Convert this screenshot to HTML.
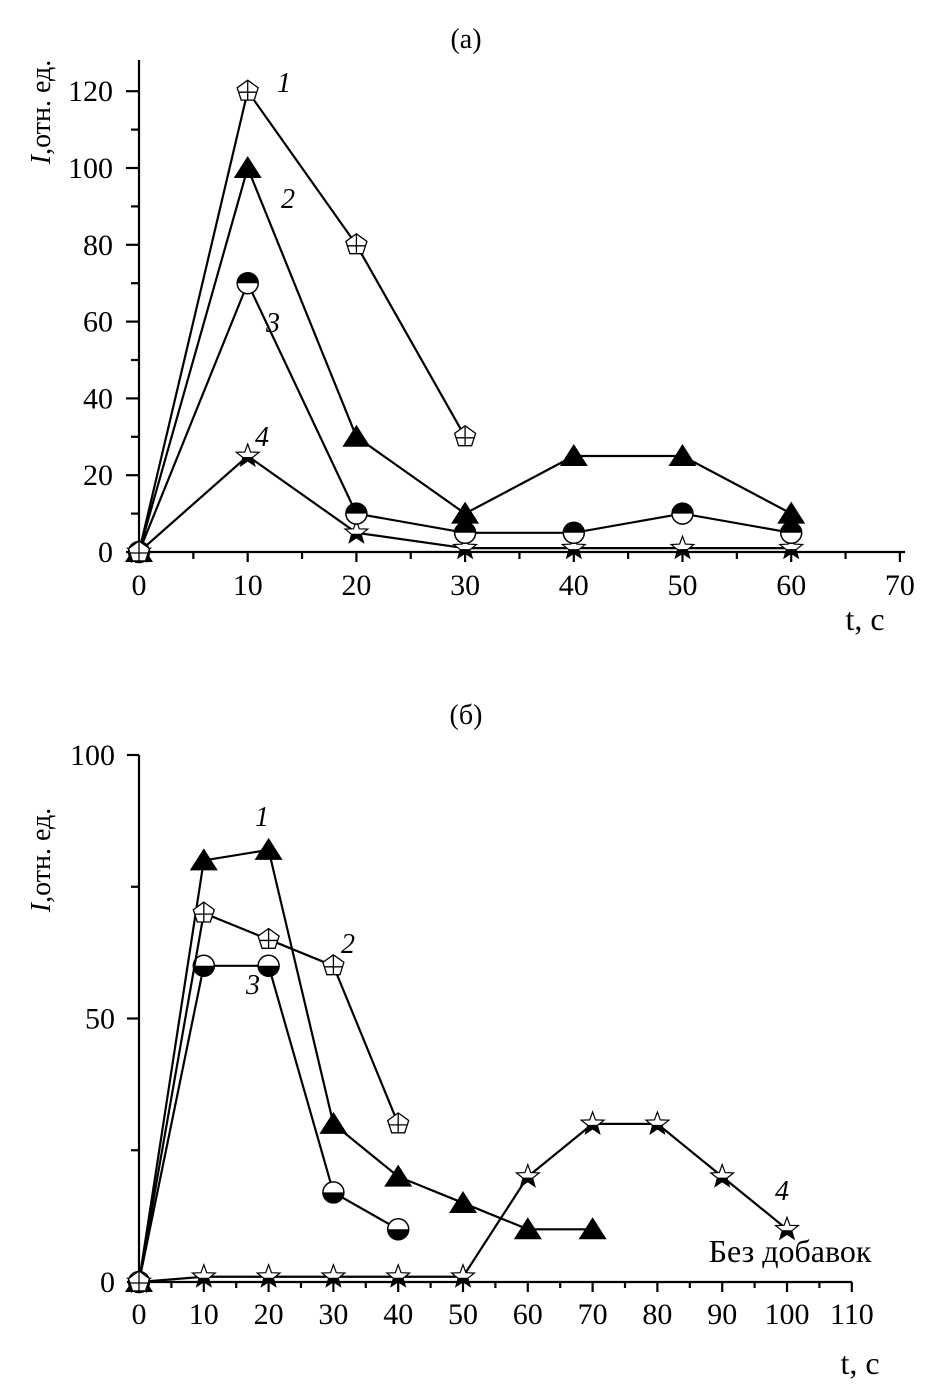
<!DOCTYPE html>
<html><head><meta charset="utf-8"><style>
html,body{margin:0;padding:0;background:#fff}
svg text{font-family:"Liberation Serif",serif;fill:#000}
</style></head><body>
<svg id="s" width="949" height="1391" xmlns="http://www.w3.org/2000/svg"></svg>
<script>
const s=document.getElementById('s');let h='';
function L(x1,y1,x2,y2,w){h+=`<line x1="${x1}" y1="${y1}" x2="${x2}" y2="${y2}" stroke="#000" stroke-width="${w||2.2}"/>`;}
function T(x,y,t,sz,anc,st){h+=`<text x="${x}" y="${y}" font-size="${sz||30}" text-anchor="${anc||'middle'}" ${st||''}>${t}</text>`;}
function tri(x,y){h+=`<polygon points="${x},${y-12} ${x-14},${y+10} ${x+14},${y+10}" fill="#000"/>`;}
function circ(x,y,topBlack){const r=10.5;
 h+=`<circle cx="${x}" cy="${y}" r="${r}" fill="#fff" stroke="#000" stroke-width="1.5"/>`;
 if(topBlack)h+=`<path d="M${x-r},${y} A${r},${r} 0 0 1 ${x+r},${y} Z" fill="#000"/>`;
 else h+=`<path d="M${x-r},${y} A${r},${r} 0 0 0 ${x+r},${y} Z" fill="#000"/>`;}
function pent(x,y){let p=[];for(let i=0;i<5;i++){const a=-Math.PI/2+i*2*Math.PI/5;p.push((x+11*Math.cos(a)).toFixed(1)+','+(y+11*Math.sin(a)).toFixed(1));}
 h+=`<polygon points="${p.join(' ')}" fill="#fff" stroke="#000" stroke-width="1.3"/>`;L(x-9,y+1,x+9,y+1,1.3);L(x,y-10,x,y+9,1.3);}
function star(x,y){let p=[];for(let i=0;i<10;i++){const a=-Math.PI/2+i*Math.PI/5,r=i%2?5:12;p.push((x+r*Math.cos(a)).toFixed(1)+','+(y+r*Math.sin(a)).toFixed(1));}
 const id='c'+Math.round(x)+'_'+Math.round(y);
 h+=`<clipPath id="${id}"><rect x="${x-13}" y="${y+1}" width="26" height="14"/></clipPath>`;
 h+=`<polygon points="${p.join(' ')}" fill="#fff" stroke="#000" stroke-width="1.2"/>`;
 h+=`<polygon points="${p.join(' ')}" fill="#000" clip-path="url(#${id})"/>`;}
function series(xs,ys,X,Y,mk,arg){let pts=xs.map((v,i)=>X(v)+','+Y(ys[i]));
 h+=`<polyline points="${pts.join(' ')}" fill="none" stroke="#000" stroke-width="2.2"/>`;
 xs.forEach((v,i)=>mk(X(v),Y(ys[i]),arg));}
const IT='font-style="italic"';
// ---- (a)
{const X=v=>139+v*10.87,Y=v=>552-v*3.84;
 T(466,48,'(а)',28);
 L(139,60,139,552);L(139,552,905,552);
 for(let v=0;v<=120;v+=10)L(v%20?131:126,Y(v),139,Y(v));
 for(let v=0;v<=70;v+=5)L(X(v),552,X(v),v%10?559:562);
 for(let v=0;v<=120;v+=20)T(113,Y(v)+10,v,30,'end');
 for(let v=0;v<=70;v+=10)T(X(v),595,v,30);
 T(865,630,'t, c',32);
 h+=`<text transform="translate(50,112) rotate(-90)" font-size="28" text-anchor="middle"><tspan font-style="italic">I</tspan>,отн. ед.</text>`;
 const t=[0,10,20,30,40,50,60];
 series(t,[0,25,5,1,1,1,1],X,Y,star);
 series(t,[0,70,10,5,5,10,5],X,Y,circ,true);
 series(t,[0,100,30,10,25,25,10],X,Y,tri);
 series([0,10,20,30],[0,120,80,30],X,Y,pent);
 T(284,92,'1',28,'middle',IT);T(288,208,'2',28,'middle',IT);
 T(273,332,'3',28,'middle',IT);T(262,446,'4',28,'middle',IT);}
// ---- (б)
{const X=v=>139+v*6.48,Y=v=>1282-v*5.27;
 T(466,724,'(б)',28);
 L(139,755,139,1282);L(139,1282,852,1282);
 for(let v=0;v<=100;v+=25)L(v%50?131:127,Y(v),139,Y(v));
 for(let v=0;v<=110;v+=5)L(X(v),1282,X(v),v%10?1288:1292);
 for(let v=0;v<=100;v+=50)T(115,Y(v)+10,v,30,'end');
 for(let v=0;v<=110;v+=10)T(X(v),1324,v,30);
 T(860,1374,'t, c',32);
 h+=`<text transform="translate(50,860) rotate(-90)" font-size="28" text-anchor="middle"><tspan font-style="italic">I</tspan>,отн. ед.</text>`;
 series([0,10,20,30,40,50,60,70,80,90,100],[0,1,1,1,1,1,20,30,30,20,10],X,Y,star);
 series([0,10,20,30,40],[0,60,60,17,10],X,Y,circ,false);
 series([0,10,20,30,40,50,60,70],[0,80,82,30,20,15,10,10],X,Y,tri);
 series([0,10,20,30,40],[0,70,65,60,30],X,Y,pent);
 T(262,826,'1',28,'middle',IT);T(348,953,'2',28,'middle',IT);
 T(253,994,'3',28,'middle',IT);T(782,1200,'4',28,'middle',IT);
 T(790,1262,'Без добавок',32);}
s.innerHTML=h;
</script>
</body></html>
